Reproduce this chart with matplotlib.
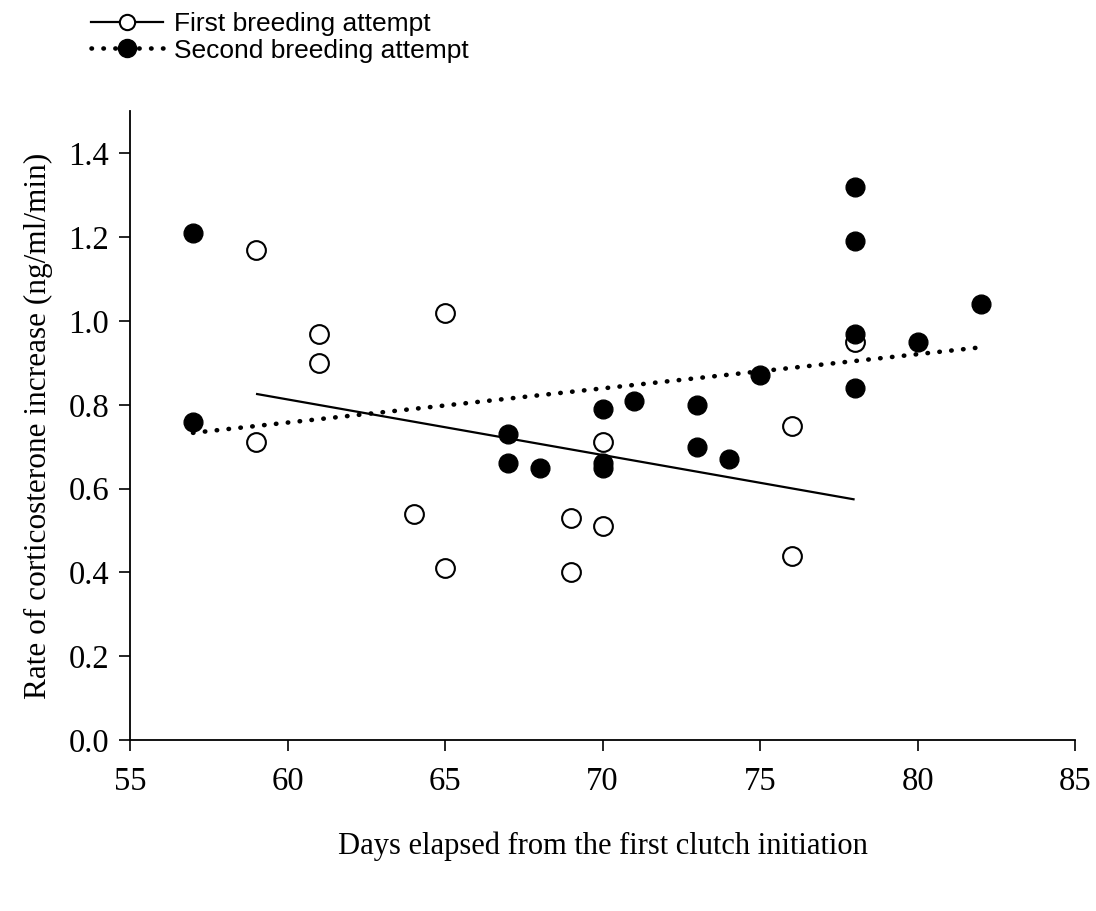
import matplotlib
matplotlib.use("Agg")
import matplotlib.pyplot as plt
from matplotlib.lines import Line2D

# First breeding attempt (open circles)
first_x = [59, 59, 61, 61, 64, 65, 65, 69, 69, 70, 70, 76, 76, 78]
first_y = [1.17, 0.71, 0.97, 0.90, 0.54, 1.02, 0.41, 0.53, 0.40, 0.71, 0.51, 0.75, 0.44, 0.95]

# Second breeding attempt (filled circles)
second_x = [57, 57, 67, 67, 68, 70, 70, 70, 71, 73, 73, 74, 75, 78, 78, 78, 78, 80, 82]
second_y = [1.21, 0.76, 0.73, 0.66, 0.65, 0.79, 0.66, 0.65, 0.81, 0.80, 0.70, 0.67, 0.87,
            1.32, 1.19, 0.97, 0.84, 0.95, 1.04]

# Regression lines (endpoints)
fit1_x = [59, 78]
fit1_y = [0.826, 0.574]
fit2_x = [57, 82]
fit2_y = [0.733, 0.937]

xticks = [55, 60, 65, 70, 75, 80, 85]
yticks = [0.0, 0.2, 0.4, 0.6, 0.8, 1.0, 1.2, 1.4]

serif = ["Liberation Serif", "DejaVu Serif"]
sans = ["Liberation Sans", "DejaVu Sans"]

fig = plt.figure(figsize=(10.96, 9.11), dpi=100)
ax = fig.add_axes([0.1186, 0.1877, 0.8624, 0.690])

dot_style = (0, (0.1, 2.5))

ax.plot(fit1_x, fit1_y, color="black", lw=1.6, solid_capstyle="butt", zorder=2)
ax.plot(fit2_x, fit2_y, color="black", lw=3.3, linestyle=dot_style,
        dash_capstyle="round", zorder=2)

ax.plot(first_x, first_y, linestyle="none", marker="o", markersize=13.5,
        markerfacecolor="white", markeredgecolor="black", markeredgewidth=1.5, zorder=3)
ax.plot(second_x, second_y, linestyle="none", marker="o", markersize=13.5,
        markerfacecolor="black", markeredgecolor="black", markeredgewidth=1.0, zorder=4)

ax.set_xlim(55, 85)
ax.set_ylim(0, 1.5)
ax.set_xticks(xticks)
ax.set_yticks(yticks)
ax.set_xticklabels([str(v) for v in xticks], family=serif, fontsize=23.5)
ax.set_yticklabels([f"{v:.1f}" for v in yticks], family=serif, fontsize=23.5)
ax.tick_params(direction="out", length=8, width=1.2, pad=11)
ax.tick_params(axis="y", pad=7)

for s in ["top", "right"]:
    ax.spines[s].set_visible(False)
for s in ["left", "bottom"]:
    ax.spines[s].set_linewidth(1.3)

ax.set_xlabel("Days elapsed from the first clutch initiation", family=serif,
              fontsize=22, labelpad=25)
ax.set_ylabel("Rate of corticosterone increase (ng/ml/min)", family=serif,
              fontsize=22.5, labelpad=11)

h1 = Line2D([], [], color="black", lw=1.6, marker="o", markersize=11,
            markerfacecolor="white", markeredgecolor="black", markeredgewidth=1.5)
h2 = Line2D([], [], color="black", lw=3.3, linestyle=dot_style, dash_capstyle="round",
            marker="o", markersize=13, markerfacecolor="black", markeredgecolor="black")
fig.legend([h1, h2], ["First breeding attempt", "Second breeding attempt"],
           loc="upper left", bbox_to_anchor=(0.072, 1.0), frameon=False,
           prop={"family": sans, "size": 19}, handlelength=2.75, handletextpad=0.42,
           labelspacing=0.1, borderaxespad=0.05)

fig.savefig("out.png", dpi=100)
